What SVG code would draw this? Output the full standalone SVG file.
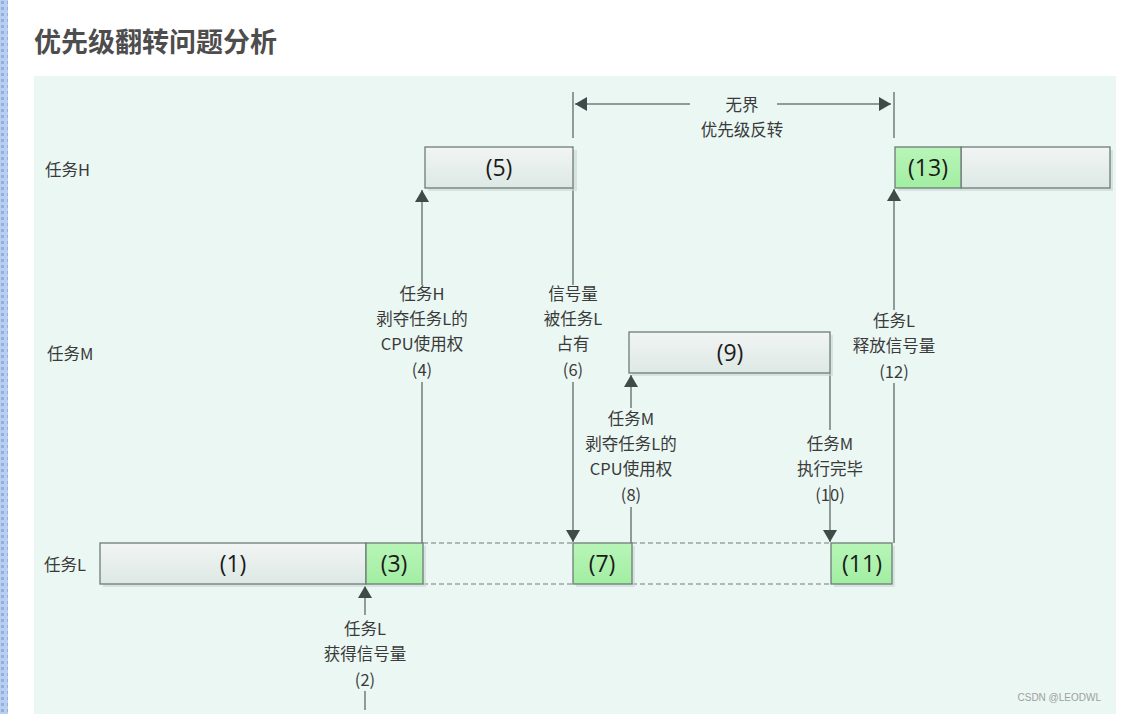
<svg xmlns="http://www.w3.org/2000/svg" width="1131" height="714" viewBox="0 0 1131 714">
<defs>
<linearGradient id="gGray" x1="0" y1="0" x2="0" y2="1"><stop offset="0" stop-color="#f1f5f3"/><stop offset="1" stop-color="#dde8e4"/></linearGradient>
<linearGradient id="gGreen" x1="0" y1="0" x2="0" y2="1"><stop offset="0" stop-color="#b8f5b8"/><stop offset="1" stop-color="#a2eea2"/></linearGradient>
<pattern id="dots" width="6" height="6" patternUnits="userSpaceOnUse"><rect width="6" height="6" fill="#b9cff0"/><rect x="1" y="1" width="3" height="3" fill="#8fb0e0"/></pattern>
<marker id="ah" viewBox="0 0 12 14" refX="12" refY="7" markerWidth="12" markerHeight="14" markerUnits="userSpaceOnUse" orient="auto"><path d="M0,0 L12,7 L0,14 Z" fill="#3f4b48"/></marker>
</defs>
<style>
.box{fill:url(#gGray);stroke:#6e7c78;stroke-width:1.3}
.grn{fill:url(#gGreen);stroke:#6e7c78;stroke-width:1.3}
.sh{fill:#c9d6d2;opacity:0.6}
.bt{font-family:"Open Sans","Noto Sans CJK SC",sans-serif;font-size:23px;fill:#1a1a1a;text-anchor:middle}
.lb{font-family:"Noto Sans CJK SC",sans-serif;font-size:16.5px;fill:#3a3a3a;text-anchor:middle}
.rl{font-family:"Noto Sans CJK SC",sans-serif;font-size:16.5px;fill:#3a3a3a}
.ln{stroke:#707c79;stroke-width:1.5;fill:none}
.ar{stroke:#707c79;stroke-width:1.5;fill:none;marker-end:url(#ah)}
.ds{stroke:#707c79;stroke-width:1.2;stroke-dasharray:5,3;fill:none}
</style>
<rect width="1131" height="714" fill="#ffffff"/>
<rect x="0" y="0" width="8" height="714" fill="url(#dots)"/>
<text x="34" y="52" font-family="Noto Sans CJK SC,sans-serif" font-size="27" font-weight="bold" fill="#4d4d4d">优先级翻转问题分析</text>
<rect x="34" y="76" width="1082" height="638" fill="#eaf7f3"/>

<g id="row-labels">
<text class="rl" x="45" y="176">任务H</text>
<text class="rl" x="47" y="360">任务M</text>
<text class="rl" x="44" y="571">任务L</text>
</g>

<g id="connectors">
<line class="ds" x1="423" y1="543" x2="573" y2="543"/>
<line class="ds" x1="423" y1="584" x2="573" y2="584"/>
<line class="ds" x1="632" y1="543" x2="831" y2="543"/>
<line class="ds" x1="632" y1="584" x2="831" y2="584"/>
<line class="ln" x1="573" y1="92" x2="573" y2="138"/>
<line class="ln" x1="894" y1="92" x2="894" y2="138"/>
<line class="ar" x1="690" y1="104" x2="575" y2="104"/>
<line class="ar" x1="777" y1="104" x2="891" y2="104"/>
<line class="ar" x1="422" y1="285" x2="422" y2="190"/>
<line class="ln" x1="422" y1="382" x2="422" y2="543"/>
<line class="ln" x1="573" y1="188" x2="573" y2="285"/>
<line class="ar" x1="573" y1="382" x2="573" y2="542"/>
<line class="ar" x1="631" y1="408" x2="631" y2="375"/>
<line class="ln" x1="631" y1="507" x2="631" y2="543"/>
<line class="ln" x1="830" y1="373" x2="830" y2="430"/>
<line class="ar" x1="830" y1="485" x2="830" y2="542"/>
<line class="ar" x1="894" y1="310" x2="894" y2="189"/>
<line class="ln" x1="894" y1="383" x2="894" y2="543"/>
<line class="ar" x1="365" y1="615" x2="365" y2="586"/>
<line class="ln" x1="365" y1="691" x2="365" y2="710"/>
</g>

<g id="label-top">
<text class="lb" x="742" y="111">无界</text>
<text class="lb" x="742" y="136">优先级反转</text>
</g>

<g id="node-5">
<rect class="sh" x="428" y="150" width="149" height="41"/>
<rect class="box" x="425" y="147" width="148" height="41"/>
<text class="bt" x="499" y="176">(5)</text>
</g>
<g id="node-13">
<rect class="sh" x="898" y="150" width="215" height="41"/>
<rect class="box" x="961" y="147" width="149" height="41"/>
<rect class="grn" x="895" y="147" width="66" height="41"/>
<text class="bt" x="928" y="176">(13)</text>
</g>
<g id="node-9">
<rect class="sh" x="632" y="335" width="201" height="41"/>
<rect class="box" x="629" y="332" width="201" height="41"/>
<text class="bt" x="730" y="361">(9)</text>
</g>
<g id="node-1">
<rect class="sh" x="103" y="546" width="323" height="41"/>
<rect class="box" x="100" y="543" width="266" height="41"/>
<text class="bt" x="233" y="572">(1)</text>
</g>
<g id="node-3">
<rect class="grn" x="366" y="543" width="57" height="41"/>
<text class="bt" x="394" y="572">(3)</text>
</g>
<g id="node-7">
<rect class="sh" x="576" y="546" width="59" height="41"/>
<rect class="grn" x="573" y="543" width="59" height="41"/>
<text class="bt" x="602" y="572">(7)</text>
</g>
<g id="node-11">
<rect class="sh" x="834" y="546" width="61" height="41"/>
<rect class="grn" x="831" y="543" width="61" height="41"/>
<text class="bt" x="862" y="572">(11)</text>
</g>

<g id="label-4">
<text class="lb" x="422" y="300">任务H</text>
<text class="lb" x="422" y="325">剥夺任务L的</text>
<text class="lb" x="422" y="350">CPU使用权</text>
<text class="lb" x="422" y="376">(4)</text>
</g>
<g id="label-6">
<text class="lb" x="573" y="300">信号量</text>
<text class="lb" x="573" y="325">被任务L</text>
<text class="lb" x="573" y="350">占有</text>
<text class="lb" x="573" y="376">(6)</text>
</g>
<g id="label-8">
<text class="lb" x="631" y="425">任务M</text>
<text class="lb" x="631" y="450">剥夺任务L的</text>
<text class="lb" x="631" y="475">CPU使用权</text>
<text class="lb" x="631" y="501">(8)</text>
</g>
<g id="label-10">
<text class="lb" x="830" y="450">任务M</text>
<text class="lb" x="830" y="475">执行完毕</text>
<text class="lb" x="830" y="501">(10)</text>
</g>
<g id="label-12">
<text class="lb" x="894" y="327">任务L</text>
<text class="lb" x="894" y="352">释放信号量</text>
<text class="lb" x="894" y="378">(12)</text>
</g>
<g id="label-2">
<text class="lb" x="365" y="635">任务L</text>
<text class="lb" x="365" y="660">获得信号量</text>
<text class="lb" x="365" y="686">(2)</text>
</g>
<text x="1101" y="701" font-family="Liberation Sans,sans-serif" font-size="10" fill="#a0a0a0" text-anchor="end">CSDN @LEODWL</text>
</svg>
